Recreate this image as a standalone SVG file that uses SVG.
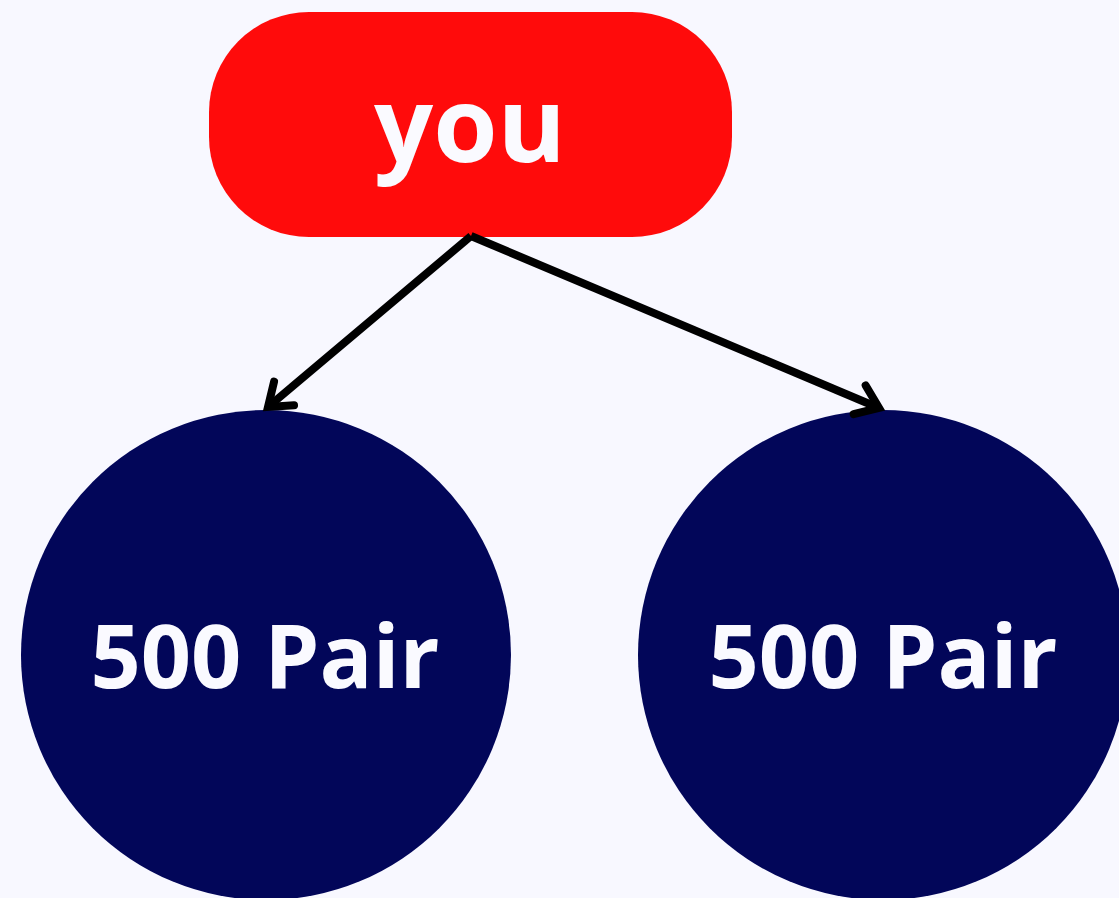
<svg xmlns="http://www.w3.org/2000/svg" width="1119" height="898" viewBox="0 0 1119 898">
<style>
.lbl{font-family:"Open Sans","Liberation Sans",sans-serif;font-weight:700;fill:#fafaff;text-anchor:middle}
.edge{stroke:#000;stroke-width:8;fill:none;stroke-linecap:butt}
</style>
<defs>
<marker id="arr" markerUnits="userSpaceOnUse" orient="auto" markerWidth="60" markerHeight="60" refX="0" refY="0" viewBox="-40 -30 60 60" overflow="visible">
<path d="M -21 -15.5 L 0 0 L -21 15.5" fill="none" stroke="#000" stroke-width="8" stroke-linecap="round" stroke-linejoin="miter"/>
</marker>
</defs>
<rect width="1119" height="898" fill="#f8f8ff"/>
<g id="node-you">
<rect x="209" y="12" width="523" height="225" rx="100" ry="100" fill="#ff0b0b"/>
<text class="lbl" x="470" y="162" font-size="104">you</text>
</g>
<g id="node-left">
<circle cx="266" cy="655" r="245" fill="#020659"/>
<text class="lbl" x="265" y="688" font-size="88">500 Pair</text>
</g>
<g id="node-right">
<circle cx="883" cy="655" r="245" fill="#020659"/>
<text class="lbl" x="883" y="688" font-size="88">500 Pair</text>
</g>
<g id="connectors">
<line class="edge" x1="471" y1="236" x2="268" y2="407" marker-end="url(#arr)"/>
<line class="edge" x1="471" y1="236" x2="879" y2="408" marker-end="url(#arr)"/>
</g>
</svg>
